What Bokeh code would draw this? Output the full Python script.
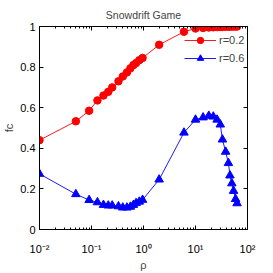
import math
from bokeh.plotting import figure
from bokeh.models import (FixedTicker, CustomJSTickFormatter, LogAxis, LinearAxis,
                          Legend, LegendItem)
from bokeh.embed import file_html
from bokeh.resources import INLINE

# ---- data ----
rho = [0.01, 0.05, 0.09, 0.13, 0.17, 0.21, 0.25, 0.33, 0.40, 0.48, 0.56, 0.64,
       0.72, 0.83, 0.96, 2, 6, 10, 14, 18, 22, 26, 30, 33, 38, 43, 46, 50, 54, 59, 63]
fc_r02 = [0.44, 0.533, 0.585, 0.636, 0.66, 0.678, 0.70, 0.73, 0.754, 0.774, 0.794, 0.81,
          0.82, 0.834, 0.845, 0.91, 0.974, 0.99, 0.993, 0.995, 0.996, 0.997, 0.998, 0.998,
          0.999, 0.999, 1.0, 1.0, 1.0, 1.0, 1.0]
fc_r06 = [0.274, 0.174, 0.145, 0.134, 0.121, 0.118, 0.118, 0.114, 0.108, 0.108, 0.112, 0.121,
          0.13, 0.137, 0.146, 0.246, 0.477, 0.541, 0.552, 0.56, 0.556, 0.541, 0.517, 0.443,
          0.383, 0.327, 0.266, 0.227, 0.19, 0.15, 0.129]
series_labels = ["r=0.2", "r=0.6"]
x_major = [0.01, 0.1, 1, 10, 100]
y_major = [0, 0.2, 0.4, 0.6, 0.8, 1]
title_text = "Snowdrift Game"
x_label = "ρ"
y_label = "fc"

FONT = "Liberation Sans"
x_minor = [k * 10 ** e for e in range(-2, 2) for k in range(2, 10)]

p = figure(width=273, height=273, x_axis_type="log", x_range=(0.01, 100), y_range=(0, 1),
           output_backend="svg", toolbar_location=None,
           min_border_left=35, min_border_right=26, min_border_top=24, min_border_bottom=42)
p.grid.visible = False
p.outline_line_color = "black"
p.outline_line_width = 1
p.background_fill_color = "white"
p.border_fill_color = "white"

p.title.text = title_text
p.title.align = "center"
p.title.text_font = FONT
p.title.text_font_size = "10.5px"
p.title.text_font_style = "normal"
p.title.standoff = 12
p.title.offset = 0

sup_fmt = CustomJSTickFormatter(code="""
const sup = {"-":"\u207b","0":"\u2070","1":"\u00b9","2":"\u00b2","3":"\u00b3","4":"\u2074",
             "5":"\u2075","6":"\u2076","7":"\u2077","8":"\u2078","9":"\u2079"};
const e = Math.round(Math.log10(tick));
return "10" + String(e).split("").map(c => sup[c]).join("");
""")
empty_fmt = CustomJSTickFormatter(code="return '';")

xt = FixedTicker(ticks=x_major, minor_ticks=x_minor)
yt = FixedTicker(ticks=y_major)

def style(ax):
    ax.axis_line_color = "black"
    ax.axis_line_width = 1
    ax.major_tick_in = 4
    ax.major_tick_out = 0
    ax.minor_tick_in = 2
    ax.minor_tick_out = 0
    ax.major_tick_line_color = "black"
    ax.minor_tick_line_color = "black"
    ax.major_label_text_font = FONT
    ax.major_label_text_font_size = "11px"
    ax.major_label_text_color = "black"

xa = p.xaxis[0]
xa.ticker = xt
xa.formatter = sup_fmt
style(xa)
xa.major_label_standoff = 13
xa.axis_label = x_label
xa.axis_label_text_font = FONT
xa.axis_label_text_font_size = "11px"
xa.axis_label_text_font_style = "normal"
xa.axis_label_standoff = 1

ya = p.yaxis[0]
ya.ticker = yt
style(ya)
ya.minor_tick_in = 0
ya.major_label_standoff = 4
ya.axis_label = y_label
ya.axis_label_text_font = FONT
ya.axis_label_text_font_size = "11px"
ya.axis_label_text_font_style = "normal"
ya.axis_label_standoff = 2

top = LogAxis(ticker=FixedTicker(ticks=x_major, minor_ticks=x_minor), formatter=empty_fmt)
style(top)
top.major_label_standoff = 0
top.major_label_text_font_size = "0px"
p.add_layout(top, "above")

right = LinearAxis(ticker=FixedTicker(ticks=y_major), formatter=empty_fmt)
style(right)
right.minor_tick_in = 0
right.major_label_standoff = 0
right.major_label_text_font_size = "0px"
p.add_layout(right, "right")

l1 = p.line(rho, fc_r02, line_color="#ff0000", line_width=0.9)
s1 = p.scatter(rho, fc_r02, marker="circle", size=7.5, fill_color="#ff0000", line_color="#ff0000")
l2 = p.line(rho, fc_r06, line_color="#0000ff", line_width=0.9)
s2 = p.scatter(rho, fc_r06, marker="triangle", size=8.5, fill_color="#0000ff", line_color="#0000ff")

legend = Legend(items=[LegendItem(label=series_labels[0], renderers=[l1, s1]),
                       LegendItem(label=series_labels[1], renderers=[l2, s2])],
                location=(145, 163), border_line_alpha=0, background_fill_alpha=0,
                padding=0, spacing=2, glyph_height=16, glyph_width=32, label_standoff=3,
                label_height=16, label_width=20,
                label_text_font=FONT, label_text_font_size="11px")
p.add_layout(legend)

open("out.html", "w").write(file_html(p, INLINE))
